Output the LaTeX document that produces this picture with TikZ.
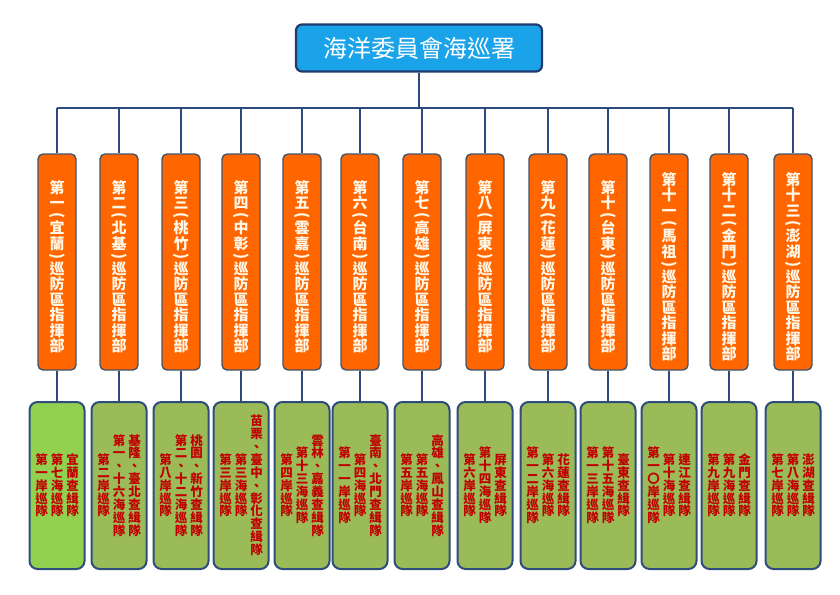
\documentclass[tikz,border=0pt]{standalone}
\usepackage{fontspec}
\usepackage{graphicx}
\setmainfont{Noto Sans CJK TC}
\usetikzlibrary{positioning}

\definecolor{titleblue}{HTML}{1AA3E8}
\definecolor{navy}{HTML}{1F3A6E}
\definecolor{linenavy}{HTML}{2B4A80}
\definecolor{zoneorange}{HTML}{FF6600}
\definecolor{zoneedge}{HTML}{44546A}
\definecolor{zonetextcol}{HTML}{FFF8E8}
\definecolor{teamgreen}{HTML}{9BBB59}
\definecolor{firstgreen}{HTML}{92D050}
\definecolor{teamedge}{HTML}{2E4D7B}
\definecolor{teamred}{HTML}{C00000}

% vertical (top to bottom) text
\newlength\chpitch
\def\vcolend{}
\def\lp{(L}
\def\rp{(R}
\newcommand\vch[1]{\hbox to 1em{\hss\vrule width0pt height.86\chpitch depth.14\chpitch #1\hss}}
\newcommand\vpar[1]{\hbox to 1em{\hss\vbox{\kern1.8pt\hbox{\rotatebox{-90}{#1}}\kern1.8pt}\hss}}
\def\vcolA#1{\ifx#1\vcolend\else\ifx#1\lp\vpar{(}\else\ifx#1\rp\vpar{)}\else\vch{#1}\fi\fi\expandafter\vcolA\fi}
\newcommand\vcol[2][0pt]{$\vcenter{\offinterlineskip\kern#1\vcolA#2\vcolend}$}
\newcommand\zonetext[1]{\setlength\chpitch{15.5pt}\vcol[10pt]{#1}}
\newcommand\teamtext[3]{\setlength\chpitch{12.9pt}\hbox{\vcol{#3}\kern3pt\vcol{#2}\kern3pt\vcol{#1}}}

\begin{document}
\begin{tikzpicture}[x=1pt,y=-1pt,
    hq/.style={draw=navy, line width=2.2pt, fill=titleblue, rounded corners=6pt, minimum width=246pt, minimum height=47pt, text=white, font=\fontsize{24}{26}\selectfont},
    zone/.style={draw=zoneedge, line width=1.4pt, fill=zoneorange, rounded corners=5pt, minimum width=38pt, minimum height=216pt, inner sep=0pt, text=zonetextcol, font=\fontsize{15}{15}\selectfont\bfseries},
    team/.style={draw=teamedge, line width=2pt, fill=teamgreen, rounded corners=8pt, minimum width=55pt, minimum height=167pt, inner sep=0pt, text=teamred, font=\fontsize{12.5}{13}\selectfont\bfseries},
    conn/.style={draw=linenavy, line width=1.8pt}
]
\useasboundingbox (0,0) rectangle (840,594);

\node[hq] (hq) at (419,48) {海洋委員會海巡署};
\coordinate (bus) at (419,108);

% patrol zone commands
\node[zone] (z1) at (57,262) {\zonetext{第一\lp 宜蘭\rp 巡防區指揮部}};
\node[zone] (z2) at (119,262) {\zonetext{第二\lp 北基\rp 巡防區指揮部}};
\node[zone] (z3) at (181,262) {\zonetext{第三\lp 桃竹\rp 巡防區指揮部}};
\node[zone] (z4) at (241,262) {\zonetext{第四\lp 中彰\rp 巡防區指揮部}};
\node[zone] (z5) at (302,262) {\zonetext{第五\lp 雲嘉\rp 巡防區指揮部}};
\node[zone] (z6) at (360,262) {\zonetext{第六\lp 台南\rp 巡防區指揮部}};
\node[zone] (z7) at (422,262) {\zonetext{第七\lp 高雄\rp 巡防區指揮部}};
\node[zone] (z8) at (485,262) {\zonetext{第八\lp 屏東\rp 巡防區指揮部}};
\node[zone] (z9) at (548,262) {\zonetext{第九\lp 花蓮\rp 巡防區指揮部}};
\node[zone] (z10) at (608,262) {\zonetext{第十\lp 台東\rp 巡防區指揮部}};
\node[zone] (z11) at (669,262) {\zonetext{第十一\lp 馬祖\rp 巡防區指揮部}};
\node[zone] (z12) at (729,262) {\zonetext{第十二\lp 金門\rp 巡防區指揮部}};
\node[zone] (z13) at (793,262) {\zonetext{第十三\lp 澎湖\rp 巡防區指揮部}};

% units
\node[team, fill=firstgreen] (t1) at (57,485.5) {\teamtext{宜蘭查緝隊}{第七海巡隊}{第一岸巡隊}};
\node[team] (t2) at (119,485.5) {\teamtext{基隆、臺北查緝隊}{第一、十六海巡隊}{第二岸巡隊}};
\node[team] (t3) at (181,485.5) {\teamtext{桃園、新竹查緝隊}{第二、十二海巡隊}{第八岸巡隊}};
\node[team] (t4) at (241,485.5) {\teamtext{苗栗、臺中、彰化查緝隊}{第三海巡隊}{第三岸巡隊}};
\node[team] (t5) at (302,485.5) {\teamtext{雲林、嘉義查緝隊}{第十三海巡隊}{第四岸巡隊}};
\node[team] (t6) at (360,485.5) {\teamtext{臺南、北門查緝隊}{第四海巡隊}{第一一岸巡隊}};
\node[team] (t7) at (422,485.5) {\teamtext{高雄、鳳山查緝隊}{第五海巡隊}{第五岸巡隊}};
\node[team] (t8) at (485,485.5) {\teamtext{屏東查緝隊}{第十四海巡隊}{第六岸巡隊}};
\node[team] (t9) at (548,485.5) {\teamtext{花蓮查緝隊}{第六海巡隊}{第一二岸巡隊}};
\node[team] (t10) at (608,485.5) {\teamtext{臺東查緝隊}{第十五海巡隊}{第一三岸巡隊}};
\node[team] (t11) at (669,485.5) {\teamtext{連江查緝隊}{第十海巡隊}{第一〇岸巡隊}};
\node[team] (t12) at (729,485.5) {\teamtext{金門查緝隊}{第九海巡隊}{第九岸巡隊}};
\node[team] (t13) at (793,485.5) {\teamtext{澎湖查緝隊}{第八海巡隊}{第七岸巡隊}};

\draw[conn] (hq.south) -- (bus);
\draw[conn] (z1.north |- bus) -- (z13.north |- bus);
\foreach \i in {1,...,13} {
  \draw[conn] (z\i.north |- bus) -- (z\i.north);
  \draw[conn] (z\i.south) -- (t\i.north);
}
\end{tikzpicture}
\end{document}
